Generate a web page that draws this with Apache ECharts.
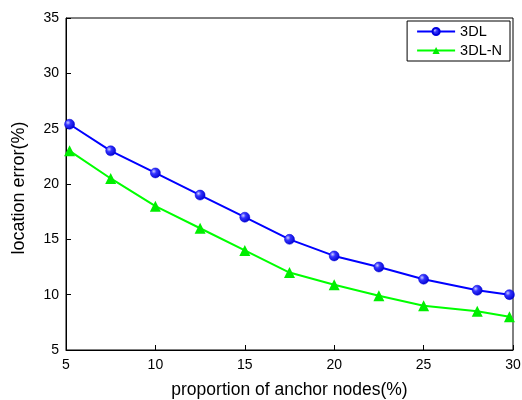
<!DOCTYPE html>
<html><head><meta charset="utf-8">
<script src="https://cdn.jsdelivr.net/npm/echarts@6/dist/echarts.min.js"></script>
<style>html,body{margin:0;padding:0;background:#fff}#c{width:522px;height:400px}</style>
</head><body><div id="c"></div>
<script>
const xValues = [5.2, 7.5, 10, 12.5, 15, 17.5, 20, 22.5, 25, 28, 29.8];
const series3DL = [25.4, 23.0, 21.0, 19.0, 17.0, 15.0, 13.5, 12.5, 11.4, 10.4, 10.0];
const series3DLN = [23.0, 20.5, 18.0, 16.0, 14.0, 12.0, 10.9, 9.9, 9.0, 8.5, 8.0];
const seriesNames = ['3DL', '3DL-N'];

const font = 'Liberation Sans, Arial, sans-serif';
const chart = echarts.init(document.getElementById('c'), null, {renderer: 'canvas'});
const pair = (xs, ys) => xs.map((x, i) => [x, ys[i]]);
const blueBall = new echarts.graphic.RadialGradient(0.35, 0.35, 0.7, [
  {offset: 0, color: '#ccccff'}, {offset: 0.35, color: '#3333ff'}, {offset: 1, color: '#0000cc'}
]);
chart.setOption({
  animation: false,
  grid: {left: 66, right: 9, top: 18, bottom: 50, show: true, borderColor: '#000', borderWidth: 1,
         backgroundColor: 'transparent', containLabel: false, outerBoundsMode: 'none'},
  legend: {
    right: 12, top: 21, orient: 'vertical', itemWidth: 38, itemHeight: 9, itemGap: 4,
    padding: [3, 8, 3, 9], borderColor: '#000', borderWidth: 1, backgroundColor: '#fff',
    textStyle: {fontFamily: font, fontSize: 14.5, color: '#000', lineHeight: 15},
    data: seriesNames
  },
  xAxis: {
    type: 'value', min: 5, max: 30, interval: 5,
    name: 'proportion of anchor nodes(%)', nameLocation: 'middle', nameGap: 31,
    nameTextStyle: {fontFamily: font, fontSize: 17.5, color: '#000'},
    axisLine: {onZero: false, lineStyle: {color: '#000', width: 1}},
    axisTick: {inside: true, length: 5, lineStyle: {color: '#000'}},
    axisLabel: {fontFamily: font, fontSize: 14, color: '#000', margin: 8},
    splitLine: {show: false}
  },
  yAxis: {
    type: 'value', min: 5, max: 35, interval: 5,
    name: 'location error(%)', nameLocation: 'middle', nameGap: 38,
    nameTextStyle: {fontFamily: font, fontSize: 18, color: '#000', padding: [0, 8, 0, 0]},
    axisLine: {show: true, onZero: false, lineStyle: {color: '#000', width: 1}},
    axisTick: {show: true, inside: true, length: 5, lineStyle: {color: '#000'}},
    axisLabel: {fontFamily: font, fontSize: 14, color: '#000', margin: 7},
    splitLine: {show: false}
  },
  series: [
    {
      name: seriesNames[0], type: 'line', data: pair(xValues, series3DL),
      symbol: 'circle', symbolSize: 10,
      lineStyle: {color: '#0000ff', width: 2},
      itemStyle: {color: blueBall, borderColor: '#0000dd', borderWidth: 0.5}
    },
    {
      name: seriesNames[1], type: 'line', data: pair(xValues, series3DLN),
      symbol: 'triangle', symbolSize: 11,
      lineStyle: {color: '#00ff00', width: 2},
      itemStyle: {color: '#00ee00'}
    }
  ]
});
</script></body></html>
